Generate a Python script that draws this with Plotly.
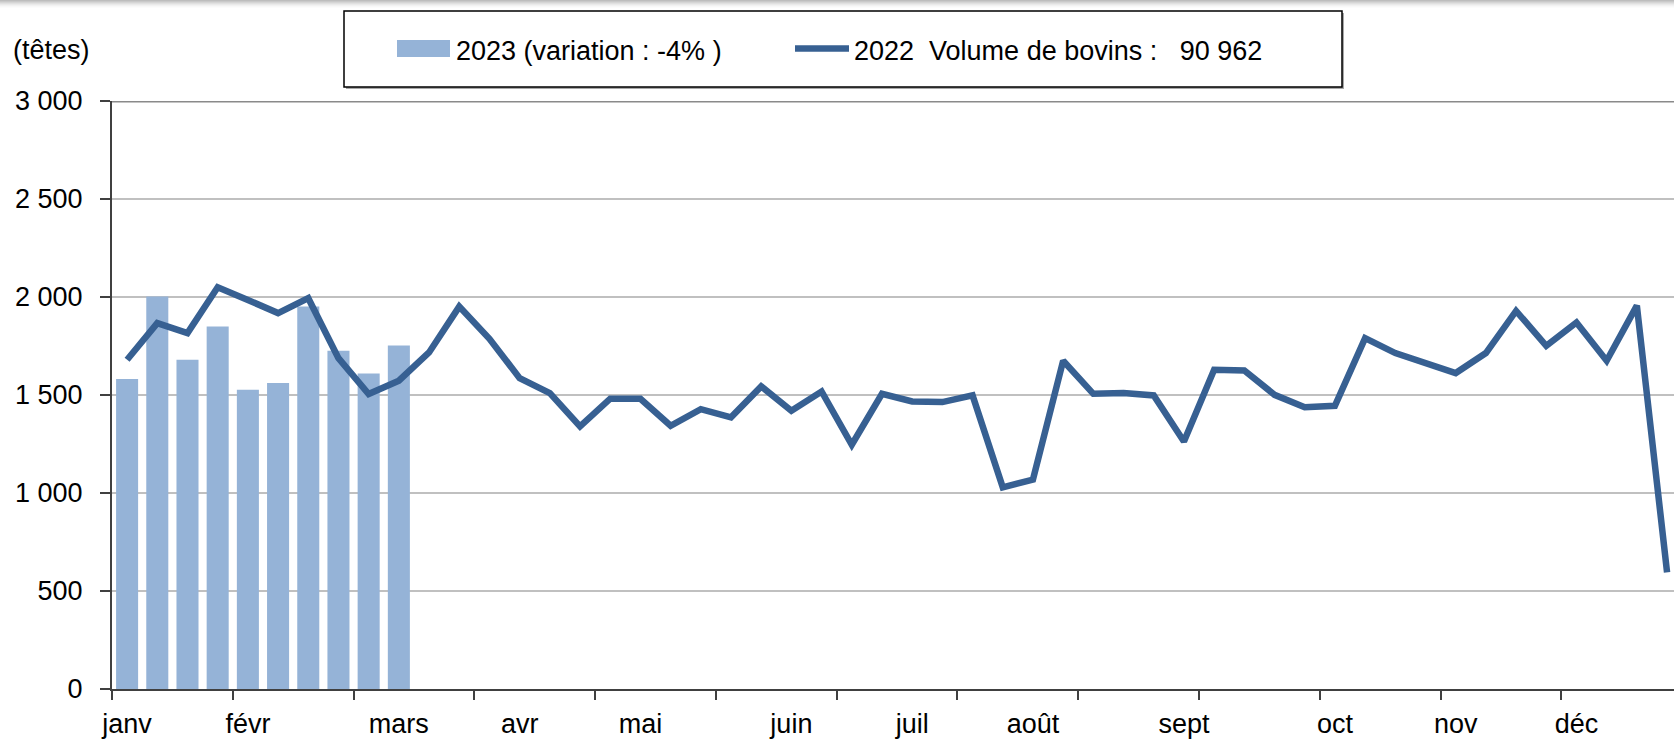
import plotly.graph_objects as go

# ---------------- data ----------------
months = ["janv", "févr", "mars", "avr", "mai", "juin", "juil", "août",
          "sept", "oct", "nov", "déc"]
month_first_week = [0, 4, 9, 13, 17, 22, 26, 30, 35, 40, 44, 48]

weeks_2022 = list(range(52))
vol_2022 = [1680, 1867, 1816, 2050, 1985, 1918, 1994, 1688, 1505, 1573,
            1717, 1951, 1787, 1586, 1510, 1340, 1481, 1481, 1343, 1428,
            1386, 1544, 1420, 1518, 1246, 1506, 1467, 1464, 1498, 1029,
            1068, 1675, 1506, 1510, 1498, 1263, 1629, 1625, 1501, 1438,
            1445, 1790, 1714, 1663, 1612, 1714, 1929, 1751, 1870, 1675,
            1956, 595]

weeks_2023 = list(range(10))
vol_2023 = [1581, 2002, 1680, 1850, 1527, 1561, 1951, 1726, 1610, 1753]

y_tickvals = [0, 500, 1000, 1500, 2000, 2500, 3000]
y_ticktext = ["0", "500", "1 000", "1 500", "2 000", "2 500", "3 000"]

label_2023 = "2023 (variation : -4% )"
label_2022 = "2022\u00a0\u00a0Volume de bovins :\u00a0\u00a0\u00a090 962"
unit_label = "(têtes)"

# ---------------- layout geometry ----------------
W, H = 1674, 739
ML, MR, MT, MB = 112, 0, 101, 50
PW, PH = W - ML - MR, H - MT - MB

def px(xp):
    return (xp - ML) / PW

def py(yp):
    return (H - MB - yp) / PH

FONT = "Liberation Sans, Arial, sans-serif"
FS = 27
BAR_C = "#95B3D7"
LINE_C = "#376092"
AX_C = "#404040"

fig = go.Figure()
fig.add_trace(go.Bar(x=weeks_2023, y=vol_2023, name=label_2023,
                     marker=dict(color=BAR_C, line=dict(width=0)),
                     showlegend=False))
fig.add_trace(go.Scatter(x=weeks_2022, y=vol_2022, name=label_2022,
                         mode="lines",
                         line=dict(color=LINE_C, width=6.5),
                         showlegend=False))

shapes = []
# top shadow band (gradient)
band = ["#bdbdbd", "#c9c9c9", "#d5d5d5", "#e0e0e0", "#eaeaea", "#f2f2f2",
        "#f8f8f8", "#fcfcfc"]
for i, c in enumerate(band):
    shapes.append(dict(type="rect", xref="paper", yref="paper",
                       x0=px(0), x1=px(W), y0=py(i), y1=py(i + 1),
                       line=dict(width=0), fillcolor=c, layer="above"))
# top border of the plot area
shapes.append(dict(type="line", xref="paper", yref="y", x0=0, x1=1,
                   y0=3000, y1=3000, line=dict(color="#8a8a8a", width=3)))
# legend box shadow + box
shapes.append(dict(type="rect", xref="paper", yref="paper",
                   x0=px(346), x1=px(1344), y0=py(13), y1=py(89),
                   line=dict(width=0), fillcolor="#a8a8a8"))
shapes.append(dict(type="rect", xref="paper", yref="paper",
                   x0=px(344), x1=px(1342), y0=py(11), y1=py(87),
                   line=dict(color="#000000", width=1.5), fillcolor="white"))
# legend swatches
shapes.append(dict(type="rect", xref="paper", yref="paper",
                   x0=px(397), x1=px(450), y0=py(40), y1=py(57),
                   line=dict(width=0), fillcolor=BAR_C))
shapes.append(dict(type="line", xref="paper", yref="paper",
                   x0=px(795), x1=px(849), y0=py(48.5), y1=py(48.5),
                   line=dict(color=LINE_C, width=6.5)))

annotations = [
    dict(text=label_2023, xref="paper", yref="paper", x=px(454), y=py(51),
         xanchor="left", yanchor="middle", showarrow=False,
         font=dict(family=FONT, size=FS, color="black")),
    dict(text=label_2022, xref="paper", yref="paper", x=px(852), y=py(51),
         xanchor="left", yanchor="middle", showarrow=False,
         font=dict(family=FONT, size=FS, color="black")),
    dict(text=unit_label, xref="paper", yref="paper", x=px(11), y=py(50),
         xanchor="left", yanchor="middle", showarrow=False,
         font=dict(family=FONT, size=FS, color="black")),
]

fig.update_layout(
    width=W, height=H,
    margin=dict(l=ML, r=MR, t=MT, b=MB, pad=0, autoexpand=False),
    paper_bgcolor="white", plot_bgcolor="white",
    bargap=0.27,
    font=dict(family=FONT, size=FS, color="black"),
    shapes=shapes, annotations=annotations,
    showlegend=False,
    xaxis=dict(
        automargin=False,
        range=[-0.5, 51.23],
        tickmode="array", tickvals=month_first_week, ticktext=months,
        ticks="", ticklen=0,
        ticklabelstandoff=10,
        showgrid=False, zeroline=False,
        showline=True, linecolor=AX_C, linewidth=2,
        tickfont=dict(family=FONT, size=FS, color="black"),
        minor=dict(tickvals=[i - 0.5 for i in range(0, 52, 4)],
                   ticks="outside", ticklen=9, tickcolor=AX_C,
                   tickwidth=1.5, showgrid=False),
    ),
    yaxis=dict(
        automargin=False,
        range=[0, 3000],
        tickmode="array", tickvals=y_tickvals, ticktext=y_ticktext,
        ticks="outside", ticklen=10, tickcolor=AX_C, tickwidth=1.5,
        showgrid=True, gridcolor="#C0C0C0", gridwidth=2,
        zeroline=False,
        showline=True, linecolor=AX_C, linewidth=2,
        ticklabelstandoff=12,
        tickfont=dict(family=FONT, size=FS, color="black"),
    ),
)

fig.write_html("out.html",
               config={"displayModeBar": False},
               post_script="document.body.style.margin='0px';"
                           "document.body.style.overflow='hidden';")
